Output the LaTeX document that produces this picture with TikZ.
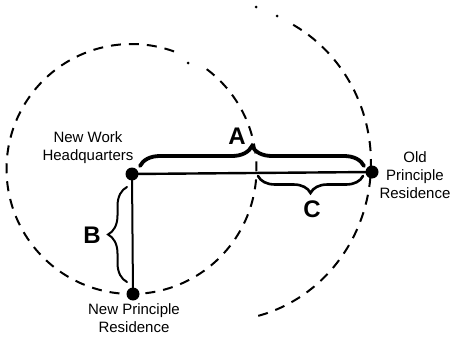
\documentclass[tikz,border=0pt]{standalone}
\usepackage{fontspec}
\setmainfont{Liberation Sans}
\usetikzlibrary{decorations.pathreplacing}
\begin{document}
\begin{tikzpicture}[x=1pt,y=-1pt,
  dot/.style={circle,fill=black,inner sep=0pt,minimum size=13pt},
  speck/.style={circle,fill=black,inner sep=0pt,minimum size=3pt},
  ring/.style={dash pattern=on 10pt off 8pt,line width=2pt},
  link/.style={line width=2.4pt},
  lbl/.style={font=\fontsize{15}{18}\selectfont,align=center,inner sep=0pt},
  letter/.style={font=\fontsize{24}{24}\selectfont\bfseries,inner sep=0pt},
  bracebig/.style={decorate,decoration={brace,amplitude=20pt},line width=3.8pt,line cap=round},
  bracemid/.style={decorate,decoration={brace,amplitude=17pt},line width=2.6pt,line cap=round},
  bracesmall/.style={decorate,decoration={brace,amplitude=19pt},line width=2pt,line cap=round}
]
\useasboundingbox (0,0) rectangle (461,340);
% dashed circles
\draw[ring] plot[domain=53:-291,samples=120,smooth] ({131.5+125*cos(\x)},{169-125*sin(\x)});
\node[speck] (s1) at (188,63) {};
\draw[ring] plot[domain=61:-76,samples=80,smooth] ({220+151*cos(\x)},{163-158*sin(\x)});
\node[speck] (s2) at (256,7) {};
\node[speck] (s3) at (277,16) {};
% points
\node[dot] (nwh) at (132,174) {};
\node[dot] (opr) at (372,172) {};
\node[dot] (npr) at (133,294) {};
\draw[link] (nwh.center) -- (opr.center);
\draw[line width=2pt] (nwh.center) -- (npr.center);
% braces
\coordinate (a1) at (140,166);
\coordinate (a2) at (364,166);
\draw[bracebig] (a1) -- (a2);
\coordinate (c1) at (363,176);
\coordinate (c2) at (258,176);
\draw[bracemid] (c1) -- (c2);
\coordinate (b1) at (127,282);
\coordinate (b2) at (127,187);
\draw[bracesmall] (b1) -- (b2);
% letters
\node[letter] (la) at (237,136) {A};
\node[letter] (lb) at (92,235) {B};
\node[letter] (lc) at (312,209) {C};
% labels
\node[lbl] (nwhl) at (88,148) {New Work\\Headquarters};
\node[lbl] (oprl) at (415,175) {Old\\Principle\\Residence};
\node[lbl] (nprl) at (134,318) {New Principle\\Residence};
\end{tikzpicture}
\end{document}
